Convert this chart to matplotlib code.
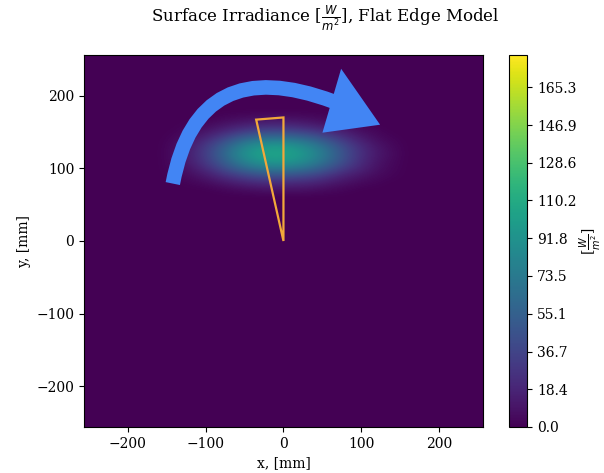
import numpy as np
import matplotlib
matplotlib.use("Agg")
import matplotlib.pyplot as plt
from matplotlib.patches import PathPatch, Polygon
from matplotlib.path import Path

plt.rcParams['font.family'] = 'DejaVu Serif'

# irradiance samples [W/m^2] (coarse grid)
x_centers = [-160, -140, -120, -100, -80, -60, -40, -20, 0, 20, 40, 60, 80, 100, 120, 140, 160]
y_centers = [60, 70, 80, 90, 100, 110, 120, 130, 140, 150, 160, 170, 180]
irradiance = [
    [0, 0, 0, 0, 0, 0, 0, 0, 0, 0, 0, 0, 0, 0, 0, 0, 0],
    [0, 0, 0, 0, 2, 4, 6, 8, 8, 8, 6, 4, 2, 0, 0, 0, 0],
    [0, 0, 2, 5, 10, 15, 20, 22, 22, 20, 18, 12, 8, 4, 2, 0, 0],
    [0, 2, 6, 12, 22, 32, 40, 45, 45, 42, 36, 26, 16, 10, 5, 2, 0],
    [0, 4, 10, 22, 38, 55, 68, 75, 75, 70, 60, 45, 30, 18, 8, 3, 0],
    [0, 5, 15, 30, 50, 72, 90, 98, 98, 92, 78, 60, 40, 22, 10, 4, 0],
    [0, 6, 16, 32, 55, 80, 98, 105, 105, 98, 84, 64, 42, 24, 12, 5, 0],
    [0, 5, 14, 30, 50, 72, 90, 98, 98, 90, 76, 58, 38, 22, 10, 4, 0],
    [0, 3, 10, 20, 35, 52, 65, 70, 70, 65, 55, 40, 26, 14, 6, 2, 0],
    [0, 1, 5, 10, 18, 28, 36, 40, 40, 36, 30, 22, 14, 7, 3, 0, 0],
    [0, 0, 2, 4, 8, 12, 16, 18, 18, 16, 12, 8, 5, 2, 0, 0, 0],
    [0, 0, 0, 0, 2, 4, 5, 6, 6, 5, 4, 2, 0, 0, 0, 0, 0],
    [0, 0, 0, 0, 0, 0, 0, 0, 0, 0, 0, 0, 0, 0, 0, 0, 0],
]
vmax = 181.0
cbar_ticks = [0.0, 18.4, 36.7, 55.1, 73.5, 91.8, 110.2, 128.6, 146.9, 165.3]

# flat edge outline [mm]
edge_x = [0, -35, 0]
edge_y = [0, 167, 170]

# arrow body (start, bend, end) and head triangle [mm]
arrow_body = [(-142, 79), (-110, 262), (64, 192)]
arrow_head = [(74, 237), (50, 149), (124, 160)]

fig = plt.figure(figsize=(6.04, 4.73), dpi=100)
ax = fig.add_axes([0.139, 0.0973, 0.6606, 0.7865])
cax = fig.add_axes([0.843, 0.0973, 0.0298, 0.7865])

cmap = plt.get_cmap('viridis')
ax.set_facecolor(cmap(0.0))
dx = x_centers[1] - x_centers[0]
dy = y_centers[1] - y_centers[0]
im = ax.imshow(np.array(irradiance), cmap=cmap, vmin=0, vmax=vmax, origin='lower',
               interpolation='bicubic', aspect='auto',
               extent=[x_centers[0] - dx / 2, x_centers[-1] + dx / 2,
                       y_centers[0] - dy / 2, y_centers[-1] + dy / 2])
ax.set_xlim(-256, 256)
ax.set_ylim(-256, 256)
ax.set_xticks([-200, -100, 0, 100, 200])
ax.set_yticks([-200, -100, 0, 100, 200])
ax.set_xlabel('x, [mm]')
ax.set_ylabel('y, [mm]')

ax.add_patch(Polygon(list(zip(edge_x, edge_y)), closed=True, fill=False,
                     edgecolor='#f2a83a', linewidth=1.6, zorder=3))

arrow_color = '#4285f4'
body = PathPatch(Path(arrow_body, [Path.MOVETO, Path.CURVE3, Path.CURVE3]),
                 fill=False, edgecolor=arrow_color, linewidth=10.5,
                 capstyle='butt', zorder=4)
ax.add_patch(body)
ax.add_patch(Polygon(arrow_head, closed=True, facecolor=arrow_color,
                     edgecolor='none', zorder=4))

cb = fig.colorbar(im, cax=cax)
cb.set_ticks(cbar_ticks)
cb.set_ticklabels([f'{t:.1f}' for t in cbar_ticks])
cb.set_label(r'[$\frac{W}{m^2}$]', labelpad=1)

fig.text(0.538, 0.962, r'Surface Irradiance [$\frac{W}{m^2}$], Flat Edge Model',
         ha='center', va='center', fontsize=12)

fig.savefig('out.png', dpi=100)
